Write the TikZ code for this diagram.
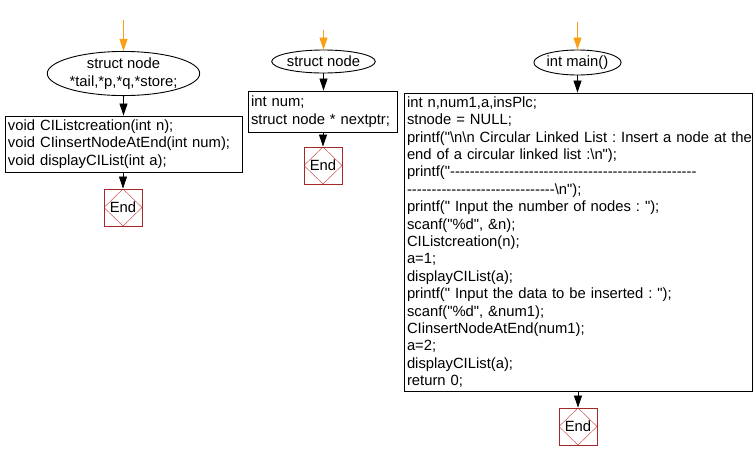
\documentclass[tikz,border=0pt]{standalone}
\usepackage{fontspec}
\setmainfont{Liberation Sans}[Ligatures=TeXOff]
\usetikzlibrary{arrows.meta,shapes.geometric}
\definecolor{flowor}{RGB}{250,160,20}
\definecolor{endred}{RGB}{165,40,40}
\definecolor{diared}{RGB}{205,80,80}
\tikzset{
  every node/.style={font=\fontsize{14.8}{17.4}\selectfont\frenchspacing},
  startell/.style={ellipse,draw,line width=0.9pt,inner sep=0pt,align=center},
  codebox/.style={rectangle,draw,line width=0.9pt,inner xsep=3pt,inner ysep=0pt,align=left},
  endbox/.style={rectangle,draw=endred,line width=0.9pt,minimum width=38pt,minimum height=37pt,inner sep=0pt,
    path picture={\draw[diared,line width=0.5pt] (path picture bounding box.north) -- (path picture bounding box.east) -- (path picture bounding box.south) -- (path picture bounding box.west) -- cycle;}},
  inarrow/.style={draw=flowor,line width=0.8pt,-{Triangle[width=8pt,length=12pt,fill=flowor]}},
  flowarrow/.style={draw=black,line width=0.8pt,-{Triangle[width=8pt,length=12pt,fill=black]}},
}
\begin{document}
\begin{tikzpicture}[x=1pt,y=-1pt]
\useasboundingbox (0,0) rectangle (753,461);
% left column
\coordinate (s1) at (123.5,20);
\node[startell,minimum width=135pt,minimum height=43pt] (e1) at (123.5,73.5) {struct node\\*tail,*p,*q,*store;};
\node[codebox,text width=231pt,minimum height=56pt] (r1) at (123.5,144) {void CIListcreation(int n);\\void CIinsertNodeAtEnd(int num);\\void displayCIList(int a);};
\node[endbox] (n1) at (123,207.5) {End};
% middle column
\coordinate (s2) at (323.5,30);
\node[startell,minimum width=91pt,minimum height=23pt] (e2) at (323.5,61.5) {struct node};
\node[codebox,text width=143pt,minimum height=41pt] (r2) at (322.5,111.5) {int num;\\struct node * nextptr;};
\node[endbox] (n2) at (323,165.5) {End};
% right column
\coordinate (s3) at (577.5,22);
\node[startell,minimum width=81pt,minimum height=25pt] (e3) at (577.5,62.5) {int main()};
\node[codebox,text width=342pt,minimum height=298pt] (r3) at (578,242) {int n,num1,a,insPlc;\\
stnode = NULL;\\
\mbox{printf("\textbackslash n\textbackslash n Circular Linked List : Insert a node at the}\\
end of a circular linked list :\textbackslash n");\\
\mbox{printf("--------------------------------------------------}\\
\mbox{------------------------------\textbackslash n");}\\
printf(" Input the number of nodes : ");\\
scanf("\%d", \&n);\\
CIListcreation(n);\\
a=1;\\
displayCIList(a);\\
printf(" Input the data to be inserted : ");\\
scanf("\%d", \&num1);\\
CIinsertNodeAtEnd(num1);\\
a=2;\\
displayCIList(a);\\
return 0;};
\node[endbox] (n3) at (578,426.5) {End};
% connectors
\draw[inarrow] (s1) -- (e1.north);
\draw[flowarrow] (e1.south) -- (e1.south |- r1.north);
\draw[flowarrow] (r1.south -| n1.north) -- (n1.north);
\draw[inarrow] (s2) -- (e2.north);
\draw[flowarrow] (e2.south) -- (e2.south |- r2.north);
\draw[flowarrow] (r2.south -| n2.north) -- (n2.north);
\draw[inarrow] (s3) -- (e3.north);
\draw[flowarrow] (e3.south) -- (e3.south |- r3.north);
\draw[flowarrow] (r3.south -| n3.north) -- (n3.north);
\end{tikzpicture}
\end{document}
